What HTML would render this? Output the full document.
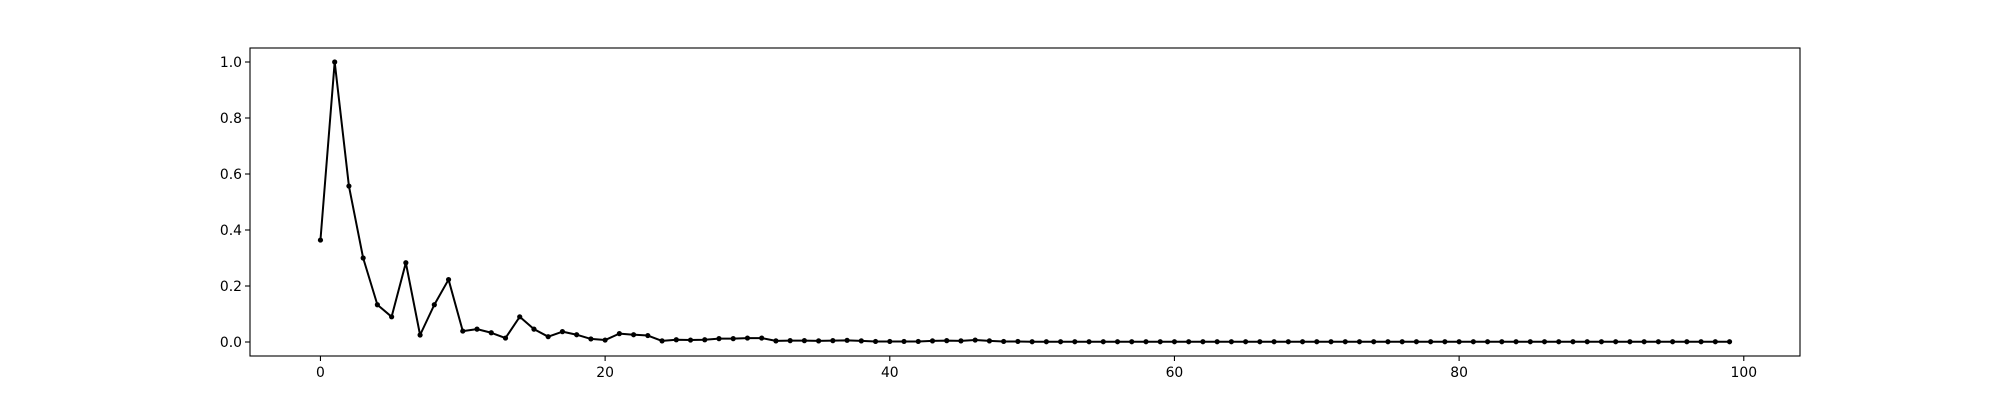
<!DOCTYPE html>
<html><head><meta charset="utf-8"><style>
html,body{margin:0;padding:0;background:#fff;width:2000px;height:400px;overflow:hidden}
text{font-family:"DejaVu Sans","Liberation Sans",sans-serif;font-size:13.9px;fill:#000}
</style></head><body>
<svg id="chart" width="2000" height="400" xmlns="http://www.w3.org/2000/svg">
<rect x="0" y="0" width="2000" height="400" fill="#fff"/>
<g id="plot"></g>
</svg>
<script>
const xTicks = [0,20,40,60,80,100];
const yTicks = [0.0,0.2,0.4,0.6,0.8,1.0];
const yTickLabels = ["0.0","0.2","0.4","0.6","0.8","1.0"];
const headValues = [0.364,1.0,0.557,0.300,0.133,0.090,0.283,0.025,0.133,0.223,0.039,0.046,0.033,0.014,0.090,0.046,0.019,0.037,0.026,0.011,0.007,0.030,0.026,0.023,0.004,0.008,0.007,0.008,0.012,0.012,0.014,0.014,0.004,0.005,0.005,0.004,0.005,0.006,0.004,0.002,0.002,0.002,0.002,0.004,0.005,0.004,0.007,0.004,0.002,0.002];
const tailValues = [0.001,0.001,0.001,0.001,0.001,0.001,0.001,0.001,0.001,0.001,0.001,0.001,0.001,0.001,0.001,0.001,0.001,0.001,0.001,0.001,0.001,0.001,0.001,0.001,0.001,0.001,0.001,0.001,0.001,0.001,0.001,0.001,0.001,0.001,0.001,0.001,0.001,0.001,0.001,0.001,0.001,0.001,0.001,0.001,0.001,0.001,0.001,0.001,0.001,0.001];
const values = headValues.concat(tailValues);

const L=250,R=1800,T=48,B=356;
const xmin=-4.95,xmax=103.95,ymin=-0.05,ymax=1.05;
const xs=v=>L+(v-xmin)/(xmax-xmin)*(R-L);
const ys=v=>B-(v-ymin)/(ymax-ymin)*(B-T);
const NS="http://www.w3.org/2000/svg";
const g=document.getElementById('plot');
function mk(t,a){const e=document.createElementNS(NS,t);for(const k in a)e.setAttribute(k,a[k]);g.appendChild(e);return e;}

let d=values.map((v,i)=>(i?'L':'M')+xs(i).toFixed(2)+' '+ys(v).toFixed(2)).join(' ');
const line=mk('path',{d:d,fill:'none',stroke:'#000','stroke-width':2,'stroke-linejoin':'round'});


values.forEach((v,i)=>{
  const c=mk('circle',{cx:xs(i),cy:ys(v),r:2.6,fill:'#000'});
  
  
});
const frame=mk('rect',{x:L,y:T,width:R-L,height:B-T,fill:'none',stroke:'#000','stroke-width':1.1});


xTicks.forEach(v=>{
  const x=xs(v);
  const tk=mk('line',{x1:x,x2:x,y1:B,y2:B+5,stroke:'#000','stroke-width':1.1});
  
  
  const t=mk('text',{x:x,y:B+21,'text-anchor':'middle'});
  t.textContent=String(v);
  
  
});
yTicks.forEach((v,i)=>{
  const y=ys(v);
  const tk=mk('line',{x1:L-5,x2:L,y1:y,y2:y,stroke:'#000','stroke-width':1.1});
  
  
  const t=mk('text',{x:L-8,y:y+5,'text-anchor':'end'});
  t.textContent=yTickLabels[i];
  
  
});
</script>
</body></html>
